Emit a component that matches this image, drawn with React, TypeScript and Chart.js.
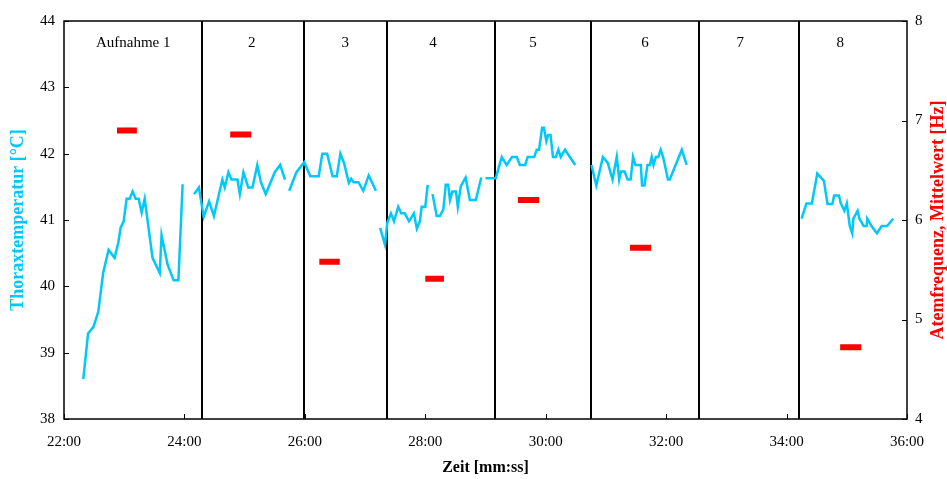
import React, { useEffect, useRef } from "react";
import { Chart, registerables } from "chart.js";
Chart.register(...registerables);

// ---- data (minutes on x) ----
const xTickValues = [22, 24, 26, 28, 30, 32, 34, 36];
const leftTicks = [38, 39, 40, 41, 42, 43, 44];
const rightTicks = [4, 5, 6, 7, 8];

const segmentLabels = ["Aufnahme 1", "2", "3", "4", "5", "6", "7", "8"];
const segmentLabelPos = [23.15, 25.12, 26.67, 28.13, 29.79, 31.65, 33.23, 34.89];
const segmentBoundaries = [24.3, 25.98, 27.36, 29.15, 30.76, 32.54, 34.2];

// Thoraxtemperatur: time (min), value (°C); null = gap
const tempTime = [
  22.32, 22.40, 22.49, 22.57, 22.65, 22.74, 22.84, 22.90, 22.94, 22.99, 23.04, 23.09, 23.14, 23.19, 23.24, 23.29, 23.34, 23.47, 23.59, 23.62, 23.72, 23.82, 23.90, 23.97,
  24.06,
  24.16, 24.24, 24.32, 24.41, 24.49, 24.63, 24.67, 24.73, 24.78, 24.88, 24.92, 24.98, 25.06, 25.13, 25.21, 25.27, 25.35, 25.50, 25.59, 25.67,
  25.70,
  25.74, 25.86, 25.99, 26.09, 26.23, 26.29, 26.37, 26.46, 26.53, 26.59, 26.65, 26.73, 26.77, 26.81, 26.89, 26.97, 27.06, 27.18,
  27.21,
  27.25, 27.33, 27.37, 27.43, 27.48, 27.55, 27.60, 27.66, 27.73, 27.81, 27.86, 27.91, 27.94, 28.00, 28.04,
  28.08,
  28.12, 28.19, 28.24, 28.30, 28.34, 28.38, 28.41, 28.45, 28.51, 28.54, 28.59, 28.67, 28.74, 28.84, 28.93,
  28.96,
  29.00, 29.17, 29.27, 29.35, 29.44, 29.52, 29.57, 29.66, 29.70, 29.81, 29.85, 29.89, 29.94, 29.97, 30.01, 30.04, 30.08, 30.12, 30.17, 30.21, 30.25, 30.32, 30.49,
  30.6,
  30.76, 30.84, 30.95, 31.03, 31.11, 31.18, 31.22, 31.25, 31.31, 31.36, 31.41, 31.45, 31.49, 31.58, 31.60, 31.64, 31.69, 31.73, 31.76, 31.79, 31.83, 31.87, 31.91, 31.95, 32.03, 32.06, 32.26, 32.34,
  33.0,
  34.25, 34.33, 34.42, 34.51, 34.62, 34.68, 34.76, 34.79, 34.87, 34.90, 34.96, 35.00, 35.05, 35.09, 35.11, 35.18, 35.21, 35.28, 35.33, 35.34, 35.41, 35.50, 35.58, 35.67, 35.77,
];
const tempValue = [
  38.60, 39.29, 39.39, 39.62, 40.20, 40.55, 40.43, 40.65, 40.88, 40.98, 41.32, 41.32, 41.43, 41.32, 41.32, 41.11, 41.32, 40.43, 40.20, 40.77, 40.33, 40.09, 40.09, 41.54,
  null,
  41.39, 41.49, 41.05, 41.28, 41.06, 41.61, 41.49, 41.72, 41.61, 41.61, 41.39, 41.72, 41.49, 41.49, 41.83, 41.57, 41.39, 41.72, 41.83, 41.61,
  null,
  41.44, 41.72, 41.87, 41.66, 41.66, 42.00, 42.00, 41.66, 41.66, 42.00, 41.86, 41.56, 41.62, 41.57, 41.57, 41.44, 41.67, 41.44,
  null,
  40.88, 40.63, 40.96, 41.10, 40.98, 41.20, 41.10, 41.10, 40.98, 41.10, 40.87, 40.98, 41.20, 41.20, 41.53,
  null,
  41.39, 41.06, 41.06, 41.16, 41.53, 41.53, 41.30, 41.43, 41.43, 41.20, 41.51, 41.64, 41.30, 41.30, 41.64,
  null,
  41.63, 41.63, 41.95, 41.83, 41.95, 41.95, 41.83, 41.83, 41.95, 41.95, 42.06, 42.06, 42.39, 42.39, 42.19, 42.28, 42.28, 41.95, 41.95, 42.06, 41.95, 42.06, 41.83,
  null,
  41.83, 41.52, 41.95, 41.86, 41.61, 41.95, 41.61, 41.73, 41.73, 41.61, 41.61, 41.95, 41.83, 41.83, 41.52, 41.52, 41.83, 41.83, 41.95, 41.83, 41.95, 41.95, 42.06, 41.95, 41.61, 41.61, 42.06, 41.83,
  null,
  41.02, 41.25, 41.25, 41.70, 41.59, 41.24, 41.24, 41.37, 41.37, 41.25, 41.14, 41.25, 40.91, 40.80, 41.02, 41.14, 41.02, 40.91, 40.91, 41.02, 40.91, 40.80, 40.91, 40.91, 41.02,
];

// Atemfrequenz Mittelwert (Hz) per Aufnahme: start, end, value
const rateStart = [22.88, 24.76, 26.24, 28.0, 29.54, 31.4, 34.89];
const rateEnd = [23.21, 25.11, 26.58, 28.31, 29.89, 31.75, 35.24];
const rateValue = [6.9, 6.86, 5.58, 5.41, 6.2, 5.72, 4.72];

const CYAN = "#00C8F8";
const RED = "#FF0000";
const SERIF = '"Liberation Serif", "Times New Roman", serif';

const tempData = tempTime.map((t, i) => ({ x: t, y: tempValue[i] }));
const rateData: { x: number; y: number | null }[] = [];
rateStart.forEach((s, i) => {
  rateData.push({ x: s, y: rateValue[i] });
  rateData.push({ x: rateEnd[i], y: rateValue[i] });
  rateData.push({ x: rateEnd[i] + 0.01, y: null });
});

const overlayPlugin = {
  id: "overlay",
  beforeDatasetsDraw(chart: any) {
    const { ctx, chartArea: a, scales } = chart;
    const xs = scales.x;
    ctx.save();
    ctx.strokeStyle = "#000";
    ctx.lineWidth = 2;
    segmentBoundaries.forEach((b) => {
      const px = Math.round(xs.getPixelForValue(b));
      ctx.beginPath();
      ctx.moveTo(px, a.top);
      ctx.lineTo(px, a.bottom);
      ctx.stroke();
    });
    ctx.fillStyle = "#000";
    ctx.font = "15px " + SERIF;
    ctx.textAlign = "center";
    ctx.textBaseline = "middle";
    segmentLabels.forEach((l, i) => {
      ctx.fillText(l, xs.getPixelForValue(segmentLabelPos[i]), a.top + 22);
    });
    ctx.restore();
  },
  afterDraw(chart: any) {
    const { ctx, chartArea: a, scales } = chart;
    ctx.save();
    ctx.strokeStyle = "#000";
    ctx.lineWidth = 1.5;
    ctx.strokeRect(a.left, a.top, a.right - a.left, a.bottom - a.top);
    ctx.lineWidth = 1;
    const tl = 5;
    xTickValues.forEach((v) => {
      const px = Math.round(scales.x.getPixelForValue(v)) + 0.5;
      ctx.beginPath();
      ctx.moveTo(px, a.bottom);
      ctx.lineTo(px, a.bottom - tl);
      ctx.stroke();
    });
    leftTicks.forEach((v) => {
      const py = Math.round(scales.y.getPixelForValue(v)) + 0.5;
      ctx.beginPath();
      ctx.moveTo(a.left, py);
      ctx.lineTo(a.left + tl, py);
      ctx.stroke();
    });
    rightTicks.forEach((v) => {
      const py = Math.round(scales.y1.getPixelForValue(v)) + 0.5;
      ctx.beginPath();
      ctx.moveTo(a.right, py);
      ctx.lineTo(a.right - tl, py);
      ctx.stroke();
    });
    const midY = (a.top + a.bottom) / 2;
    ctx.textAlign = "center";
    ctx.textBaseline = "middle";
    ctx.font = "bold 18px " + SERIF;
    ctx.fillStyle = CYAN;
    ctx.save();
    ctx.translate(18, midY);
    ctx.rotate(-Math.PI / 2);
    ctx.fillText("Thoraxtemperatur [°C]", 0, 0);
    ctx.restore();
    ctx.fillStyle = RED;
    ctx.save();
    ctx.translate(938, midY);
    ctx.rotate(-Math.PI / 2);
    ctx.fillText("Atemfrequenz, Mittelwert [Hz]", 0, 0);
    ctx.restore();
    ctx.fillStyle = "#000";
    ctx.font = "bold 16px " + SERIF;
    ctx.fillText("Zeit [mm:ss]", (a.left + a.right) / 2, 468);
    ctx.restore();
  },
};

export default function App() {
  const ref = useRef<HTMLCanvasElement | null>(null);
  useEffect(() => {
    if (!ref.current) return;
    const tickFont = { family: SERIF, size: 15 };
    const chart = new Chart(ref.current, {
      type: "line",
      data: {
        datasets: [
          {
            label: "Thoraxtemperatur",
            data: tempData,
            borderColor: CYAN,
            borderWidth: 2.5,
            pointRadius: 0,
            spanGaps: false,
            yAxisID: "y",
            tension: 0,
          },
          {
            label: "Atemfrequenz",
            data: rateData,
            borderColor: RED,
            borderWidth: 6,
            pointRadius: 0,
            spanGaps: false,
            yAxisID: "y1",
            borderCapStyle: "butt",
          },
        ],
      },
      options: {
        animation: false,
        responsive: false,
        layout: { padding: { top: 21, left: 0, right: 0, bottom: 0 } },
        plugins: { legend: { display: false }, tooltip: { enabled: false } },
        scales: {
          x: {
            type: "linear",
            min: 22,
            max: 36,
            afterBuildTicks: (s: any) => {
              s.ticks = xTickValues.map((v) => ({ value: v }));
            },
            ticks: {
              font: tickFont,
              color: "#000",
              padding: 14,
              maxRotation: 0,
              callback: (v: any) => `${v}:00`,
            },
            grid: { display: false, drawTicks: false },
            border: { display: false },
            afterFit: (s: any) => {
              s.height = 60;
            },
          },
          y: {
            position: "left",
            min: 38,
            max: 44,
            afterBuildTicks: (s: any) => {
              s.ticks = leftTicks.map((v) => ({ value: v }));
            },
            ticks: { font: tickFont, color: "#000", padding: 9 },
            grid: { display: false, drawTicks: false },
            border: { display: false },
            afterFit: (s: any) => {
              s.width = 64;
            },
          },
          y1: {
            position: "right",
            min: 4,
            max: 8,
            afterBuildTicks: (s: any) => {
              s.ticks = rightTicks.map((v) => ({ value: v }));
            },
            ticks: { font: tickFont, color: "#000", padding: 8 },
            grid: { display: false, drawTicks: false },
            border: { display: false },
            afterFit: (s: any) => {
              s.width = 40;
            },
          },
        },
      },
      plugins: [overlayPlugin],
    } as any);
    return () => chart.destroy();
  }, []);
  return (
    <div style={{ position: "absolute", left: 0, top: 0, width: 947, height: 479, background: "#fff" }}>
      <canvas ref={ref} width={947} height={479} style={{ display: "block" }} />
    </div>
  );
}
